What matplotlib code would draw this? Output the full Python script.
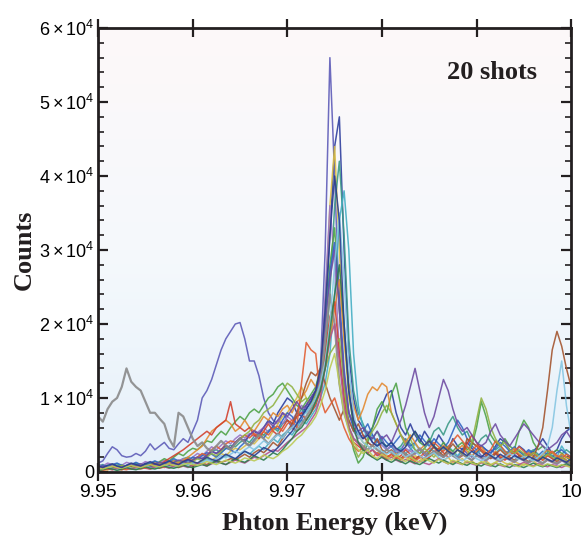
import numpy as np
import matplotlib
matplotlib.use("Agg")
import matplotlib.pyplot as plt
from matplotlib.colors import LinearSegmentedColormap

# spectra, counts in units of 1e3, sampled every 0.5 eV from 9.95 keV
x_start = 9.95
x_step = 0.0005

spectra = [
    # slate blue, tallest peak, broad hump near 9.966
    [1.2,1.5,2.5,3.4,3.0,2.2,2.0,2.1,2.5,2.2,2.8,3.8,3.0,3.5,4.0,3.2,3.0,3.8,4.5,4.0,5.5,
     7.0,10.0,11.0,12.5,14.5,16.5,18.0,19.0,20.0,20.2,18.0,15.0,15.0,13.0,10.0,8.0,7.0,6.5,8.0,7.0,
     6.0,7.5,8.0,9.0,10.0,11.0,14.0,30.0,56.0,40.0,22.0,12.0,8.0,
     6.0,5.0,4.5,5.5,4.0,3.5,4.5,
     3.0,3.5,2.5,3.0,4.0,3.2,2.5,3.0,2.2,2.8,3.5,2.5,2.0,3.0,2.5,2.0,3.2,2.5,2.0,3.0,
     2.2,2.0,3.0,2.5,1.8,2.2,3.0,2.4,1.8,2.0,2.8,2.2,1.5,2.0,2.5,1.8,1.5,2.2,2.0,1.6],
    # dark blue
    [0.5,0.6,0.4,0.8,0.7,0.5,0.9,1.0,0.6,0.8,1.2,0.9,0.7,1.0,1.3,1.1,0.8,1.2,1.5,1.2,1.6,
     2.0,1.8,2.2,2.8,2.5,3.0,3.5,3.2,4.0,4.5,4.0,5.0,5.5,5.0,6.0,7.0,6.5,8.0,9.0,10.0,
     9.5,8.0,7.5,9.0,10.0,11.0,12.0,20.0,32.0,44.0,48.0,30.0,16.0,
     10.0,7.0,6.0,5.0,6.0,7.5,9.0,
     10.5,11.0,8.0,6.0,5.0,6.5,5.0,4.0,5.5,4.5,3.5,5.0,4.0,3.0,4.5,3.5,3.0,4.0,3.2,2.5,
     3.5,3.0,2.5,3.5,4.5,4.0,3.0,2.5,3.5,3.0,2.2,2.8,3.5,4.5,3.5,2.5,3.0,4.5,5.5,6.0],
    # gold
    [0.3,0.4,0.3,0.5,0.4,0.6,0.5,0.4,0.6,0.8,0.7,0.5,0.6,0.9,0.8,0.7,1.0,1.2,0.9,1.1,1.4,
     1.2,1.5,1.8,1.6,2.0,2.5,2.2,2.8,3.2,3.0,3.5,4.0,3.8,4.5,5.0,4.5,5.5,6.5,7.5,8.0,
     9.0,10.0,11.5,10.0,9.0,11.0,14.0,22.0,36.0,44.0,30.0,18.0,10.0,
     7.0,5.0,4.0,3.5,3.0,2.5,3.0,
     2.2,2.0,2.5,1.8,2.0,1.5,2.2,1.8,1.5,2.0,2.5,1.8,1.5,2.0,1.2,1.5,1.8,1.2,1.5,1.0,
     1.2,1.5,1.0,1.3,1.6,1.2,1.0,1.4,1.1,0.9,1.3,1.5,1.0,1.2,1.6,1.3,1.1,1.5,2.0,1.6],
    # teal green
    [0.8,1.0,0.7,0.9,1.1,0.8,0.6,0.9,1.2,1.0,0.8,1.1,1.4,1.2,1.0,1.3,1.6,1.4,1.8,2.0,1.7,
     2.0,2.4,2.2,2.8,3.0,2.6,3.2,3.6,3.4,4.0,4.4,4.0,4.8,5.2,5.0,5.6,6.0,5.5,6.5,7.0,
     6.5,7.5,8.5,8.0,9.0,10.0,12.0,16.0,24.0,36.0,42.0,32.0,18.0,
     11.0,8.0,6.5,5.0,4.5,5.5,4.0,
     3.5,4.0,3.0,3.5,4.5,3.8,3.0,2.5,3.2,4.0,5.5,6.0,5.0,6.5,7.5,6.0,5.0,5.5,4.0,3.5,
     4.5,5.0,4.0,3.0,3.5,2.8,2.5,3.2,2.8,2.2,2.5,3.0,2.4,2.0,2.6,2.2,1.8,2.4,3.0,2.5],
    # cyan teal
    [0.5,0.7,0.9,0.6,0.8,1.0,0.7,0.5,0.8,0.6,0.9,1.1,0.8,0.6,1.0,1.3,1.0,0.8,1.2,1.5,1.2,
     1.0,1.4,1.8,1.5,1.2,1.8,2.2,2.0,1.6,2.4,2.8,2.4,3.0,3.5,3.0,3.8,4.5,4.0,5.0,5.5,
     5.0,6.0,7.0,6.5,7.5,8.5,10.0,12.0,16.0,24.0,34.0,38.0,30.0,
     16.0,9.0,6.0,4.5,5.0,3.5,4.0,
     3.0,3.5,2.8,3.2,2.5,3.0,3.8,3.0,2.5,3.2,2.8,2.2,3.0,3.5,2.8,2.2,2.8,3.5,2.8,2.4,
     3.0,2.5,2.0,2.6,3.2,2.6,2.2,2.8,2.4,2.0,2.6,2.2,1.8,2.4,3.0,2.6,2.0,3.5,2.5,2.0],
    # violet
    [1.0,0.8,1.2,1.0,0.7,0.9,1.3,1.1,0.8,1.0,1.4,1.2,0.9,1.3,1.6,1.3,1.0,1.5,1.8,1.5,2.0,
     2.5,2.2,2.8,3.4,3.0,3.6,4.2,3.8,4.5,5.0,4.6,5.2,4.8,5.5,6.0,5.4,6.2,7.0,6.5,7.5,
     7.0,8.0,9.0,8.5,9.5,10.5,13.0,24.0,36.0,28.0,16.0,10.0,7.0,
     5.5,4.5,5.0,4.0,3.5,4.2,3.6,
     3.0,3.6,3.0,2.6,3.2,2.8,2.4,3.0,2.6,2.2,2.8,2.4,2.0,2.6,2.2,1.8,2.4,2.0,1.6,2.2,
     1.8,1.5,2.0,1.7,1.4,1.9,1.6,1.3,1.8,1.5,1.2,1.7,1.4,1.1,1.6,1.3,1.0,1.5,1.2,1.0],
    # green
    [0.4,0.6,0.8,0.5,0.7,0.9,0.6,0.8,1.0,0.7,1.0,1.2,1.0,1.4,1.8,1.5,2.0,2.5,2.2,2.8,3.2,
     3.0,3.6,4.2,4.0,4.8,5.5,5.0,6.0,6.8,7.5,7.0,8.0,8.5,8.0,9.0,10.0,10.5,11.5,12.0,11.0,
     10.0,9.0,8.5,9.5,10.5,11.5,14.0,20.0,28.0,33.0,22.0,12.0,6.0,
     3.0,1.2,2.0,4.0,6.0,8.5,9.5,
     8.0,10.5,12.0,9.0,6.0,4.5,5.5,4.0,3.5,4.5,3.5,3.0,4.0,3.2,2.8,3.5,4.0,3.0,3.5,6.0,
     9.5,7.5,5.0,4.0,3.5,4.5,3.5,3.0,5.5,7.0,6.0,4.0,3.0,3.5,2.8,2.5,3.0,2.5,2.0,1.5],
    # blue
    [0.6,0.9,0.7,1.0,1.2,0.9,0.7,1.0,1.3,1.0,0.8,1.2,1.5,1.2,0.9,1.4,1.8,1.5,1.2,1.6,2.0,
     1.8,2.2,2.6,2.4,2.0,2.6,3.2,3.0,2.6,3.4,4.0,3.6,4.4,5.0,4.6,5.4,6.2,5.8,7.0,8.0,
     7.5,6.5,7.0,8.5,9.5,10.5,13.0,20.0,27.0,31.0,24.0,14.0,8.0,
     6.0,5.0,5.5,6.5,5.0,4.0,4.8,
     4.0,3.4,4.2,5.0,4.2,3.5,4.0,5.0,4.2,3.5,4.5,3.8,3.2,4.0,5.5,7.0,6.0,4.5,3.5,3.0,
     3.6,3.0,2.6,3.2,4.0,3.5,2.8,3.4,2.8,2.4,3.0,2.6,2.2,2.8,2.4,2.0,2.6,3.0,2.4,2.0],
    # orange
    [0.2,0.4,0.3,0.5,0.4,0.3,0.6,0.5,0.4,0.7,0.6,0.5,0.8,1.0,0.8,1.2,1.5,1.2,1.6,2.0,2.5,
     3.0,3.5,4.5,5.5,6.0,6.5,7.0,6.5,5.5,6.0,7.0,6.0,5.5,6.5,7.5,7.0,8.0,7.5,8.5,9.0,
     8.0,9.5,10.0,11.0,12.5,11.5,12.0,14.0,18.0,22.0,26.0,18.0,12.0,
     9.0,7.0,8.5,10.5,11.5,11.0,12.0,
     11.5,8.0,6.5,5.0,4.0,5.0,4.0,3.0,3.6,4.2,3.2,2.8,3.6,3.0,2.4,3.0,3.6,2.8,2.2,2.8,
     3.4,2.6,2.0,2.8,2.2,1.8,2.6,3.2,2.4,2.0,2.6,2.0,1.6,2.4,3.0,2.6,2.0,2.4,2.0,1.8],
    # red
    [0.3,0.5,0.4,0.6,0.5,0.4,0.7,0.6,0.5,0.8,0.6,0.9,1.2,1.0,1.4,1.8,2.2,2.6,3.0,3.5,4.0,
     4.5,5.0,5.5,5.0,6.0,6.5,7.0,9.5,6.5,6.0,5.5,6.0,5.0,4.5,5.5,6.5,5.5,5.0,6.0,7.0,
     6.5,7.5,8.0,7.0,8.0,9.0,11.0,16.0,21.0,23.0,16.0,10.0,6.0,
     4.0,3.5,3.0,2.5,3.0,2.2,2.6,
     2.0,2.4,1.8,2.2,3.0,2.4,1.8,2.2,1.6,2.0,2.6,3.2,2.6,2.0,2.4,1.8,2.2,3.8,5.0,4.0,
     3.0,2.4,2.0,2.6,2.0,1.6,2.2,2.8,2.2,1.6,2.0,2.6,2.0,1.6,2.2,1.8,1.4,2.0,1.6,1.2],
    # brown, with the peak at the high energy end
    [0.5,0.3,0.4,0.6,0.4,0.3,0.5,0.7,0.5,0.4,0.6,0.8,0.6,0.5,0.7,0.9,0.7,0.6,0.8,1.0,0.8,
     1.0,1.2,1.0,1.4,1.6,1.3,1.5,1.8,1.6,2.0,2.4,2.0,2.6,3.0,2.6,3.2,4.0,3.5,4.5,5.5,
     6.5,8.0,10.0,12.0,13.5,13.0,14.0,12.0,10.0,8.5,7.0,8.5,7.0,
     5.5,6.5,5.0,4.0,3.5,4.5,3.0,
     2.5,3.0,2.2,1.8,2.5,2.0,1.6,2.2,1.8,2.6,3.4,2.8,2.2,3.0,3.8,3.0,2.4,4.5,4.0,3.5,
     2.8,2.2,1.8,2.4,3.0,2.4,2.0,1.6,2.2,1.8,1.4,2.0,3.5,6.0,11.0,16.5,19.0,17.0,14.0,11.5],
    # orange red
    [0.3,0.2,0.4,0.3,0.5,0.4,0.3,0.5,0.4,0.6,0.5,0.4,0.6,0.8,0.6,0.9,1.2,1.0,1.4,1.8,1.5,
     2.0,2.5,2.2,3.0,3.5,3.0,3.8,4.2,4.0,4.5,5.0,4.6,5.2,4.8,5.5,5.0,5.8,6.2,5.5,6.5,
     7.0,6.0,12.0,17.5,16.5,16.0,10.0,8.0,9.0,10.0,8.0,6.0,4.5,
     3.5,2.8,3.2,2.5,2.0,2.6,2.2,
     1.8,2.4,2.0,1.6,2.2,1.8,1.4,2.0,2.6,3.2,4.0,3.4,2.8,3.4,4.2,5.0,4.2,3.4,2.8,3.6,
     3.0,2.4,3.0,4.2,3.6,2.8,2.2,2.8,3.4,2.8,2.2,2.6,2.0,1.6,2.2,2.8,2.2,1.8,2.4,2.0],
    # olive green
    [0.5,0.7,0.5,0.8,0.6,0.9,0.7,0.5,0.8,1.0,0.8,0.6,0.9,1.2,1.0,0.8,1.2,1.5,1.3,1.0,1.4,
     1.8,1.5,2.0,2.5,2.2,2.8,3.5,3.0,3.8,4.5,5.0,5.5,6.5,7.0,8.0,8.5,9.0,10.0,11.0,12.0,
     11.5,10.5,9.5,10.0,9.0,10.5,12.0,14.0,16.0,17.0,18.0,12.0,6.0,
     3.5,2.0,3.0,4.5,5.5,6.5,8.0,
     9.0,8.0,6.5,5.0,3.5,4.5,3.0,2.5,3.2,2.6,2.0,2.8,3.4,2.8,2.2,3.0,2.4,2.0,4.0,7.0,
     10.0,8.5,6.0,4.5,3.5,4.0,3.0,2.5,3.0,2.5,2.0,2.6,2.2,1.8,2.4,2.0,1.6,2.0,1.5,1.2],
    # purple, side peaks at 9.9835 and 9.9865
    [0.6,0.8,0.6,0.9,0.7,0.5,0.8,1.0,0.8,1.1,0.9,0.7,1.0,1.3,1.1,0.9,1.3,1.6,1.4,1.2,1.6,
     2.0,1.8,2.3,2.8,2.5,3.0,3.6,3.2,4.0,4.6,4.2,5.0,5.6,5.2,6.0,6.8,6.2,7.0,8.0,7.5,
     8.5,9.5,8.5,9.0,10.0,11.0,13.0,20.0,26.0,30.0,22.0,13.0,8.0,
     6.5,5.5,6.0,5.0,4.5,5.5,4.5,
     5.0,4.0,5.5,7.0,9.0,11.5,14.0,11.0,8.0,6.0,7.5,10.0,12.5,11.0,8.5,6.5,5.5,6.0,5.0,4.0,
     3.5,4.0,5.5,6.5,5.0,4.2,3.5,4.5,5.5,6.5,5.8,5.0,4.2,3.5,3.0,3.5,4.0,5.0,5.5,4.5],
    # gray, early bump at 9.953
    [7.5,6.8,8.5,9.5,10.0,11.5,14.0,12.2,11.5,11.0,9.5,8.0,8.0,7.2,6.5,4.5,3.4,8.0,7.5,6.0,4.5,
     3.5,4.0,3.2,2.8,3.5,4.2,3.6,3.0,3.8,4.5,4.0,3.5,4.2,5.0,4.5,3.8,4.5,5.2,4.6,5.5,
     6.0,5.5,6.5,7.5,8.5,9.5,12.0,18.0,24.0,20.0,12.0,8.0,6.0,
     4.5,4.0,3.5,3.0,3.6,3.0,2.5,
     3.0,2.6,2.2,2.8,2.4,2.0,2.6,3.2,2.6,2.2,2.8,2.4,2.0,2.6,2.2,1.8,2.4,2.0,1.6,2.2,
     2.0,1.6,2.2,1.8,1.5,2.0,1.7,1.4,1.9,1.6,1.3,1.8,1.5,1.2,1.7,1.4,1.2,1.6,1.3,1.0],
    # light blue
    [0.3,0.4,0.6,0.5,0.3,0.5,0.7,0.5,0.4,0.6,0.8,0.6,0.5,0.7,0.9,0.7,0.6,0.9,1.1,0.9,1.2,
     1.0,1.3,1.6,1.4,1.8,2.2,1.9,2.4,2.8,2.5,3.0,3.4,3.0,3.6,4.2,3.8,4.5,5.0,4.6,5.5,
     6.0,6.5,7.5,8.0,9.0,10.0,12.0,15.0,20.0,28.0,35.0,26.0,14.0,
     8.0,5.0,4.0,3.5,3.0,3.5,2.8,
     2.4,2.8,2.2,2.6,2.0,2.4,2.8,2.2,1.8,2.2,2.6,2.0,1.6,2.0,2.4,1.8,1.5,1.9,2.3,1.8,
     1.5,1.9,2.4,1.9,1.6,2.0,2.5,2.0,1.7,2.1,1.8,1.5,2.0,2.5,3.5,6.0,11.0,15.0,9.0,5.0],
    # magenta
    [0.4,0.6,0.5,0.3,0.5,0.7,0.5,0.4,0.6,0.8,0.6,0.4,0.7,0.9,0.7,0.5,0.8,1.0,0.8,0.6,0.9,
     1.2,1.0,0.8,1.1,1.4,1.2,1.0,1.3,1.6,1.4,1.2,1.6,2.0,1.8,2.2,2.6,3.0,2.8,3.4,4.0,
     4.5,5.0,5.5,6.0,7.0,8.0,10.0,14.0,18.0,20.0,15.0,9.0,6.0,
     4.5,3.8,3.2,2.6,3.0,2.4,2.0,
     1.6,2.0,1.6,1.3,1.7,1.4,1.1,1.5,1.2,1.0,1.4,1.8,1.4,1.1,1.5,1.2,1.0,1.4,1.1,0.9,
     1.3,1.0,0.8,1.2,0.9,0.7,1.1,0.8,1.0,1.3,1.0,0.8,1.1,0.9,0.7,1.0,0.8,0.6,0.9,0.7],
    # dark green
    [0.2,0.3,0.5,0.4,0.2,0.4,0.6,0.4,0.3,0.5,0.7,0.5,0.4,0.6,0.8,0.6,0.5,0.7,0.9,0.7,0.6,
     0.8,1.0,0.8,1.2,1.5,1.2,1.0,1.4,1.8,1.5,1.3,1.7,2.2,1.9,1.6,2.1,2.6,2.3,3.0,3.8,
     4.5,5.5,6.0,7.0,8.0,9.5,11.0,14.0,19.0,24.0,28.0,20.0,11.0,
     6.0,4.0,3.0,2.4,2.0,1.6,2.0,
     1.6,1.3,1.7,1.4,1.1,1.5,1.2,1.0,1.4,1.8,1.5,1.2,1.6,1.3,1.0,1.4,1.1,0.9,1.3,1.0,
     0.8,1.2,0.9,0.7,1.1,0.8,0.6,1.0,0.8,0.6,0.9,1.2,0.9,0.7,1.0,0.8,0.6,0.9,1.1,0.8],
    # yellow green
    [0.5,0.4,0.6,0.8,0.6,0.5,0.7,0.9,0.7,0.6,0.8,1.0,0.8,0.7,0.9,1.1,0.9,0.8,1.0,1.2,1.0,
     0.9,1.1,1.4,1.2,1.0,1.3,1.6,1.4,1.2,1.5,1.9,1.7,1.5,1.8,2.3,2.0,1.8,2.2,2.8,3.2,
     3.8,4.5,5.0,5.8,6.5,7.5,9.0,11.0,14.0,16.0,12.0,8.0,5.5,
     4.0,3.0,2.5,3.0,2.2,1.8,2.4,
     2.0,1.6,2.2,1.8,1.4,2.0,1.6,1.3,1.8,1.5,1.2,1.7,1.4,1.1,1.6,1.3,1.0,1.5,1.2,1.0,
     1.4,1.1,0.9,1.3,1.0,0.8,1.2,0.9,0.7,1.1,0.9,0.7,1.0,0.8,1.1,0.9,0.7,1.0,0.8,0.6],
    # navy
    [0.8,0.6,0.9,1.1,0.8,0.6,0.9,1.2,1.0,0.8,1.1,1.4,1.1,0.9,1.2,1.5,1.2,1.0,1.4,1.7,1.4,
     1.2,1.6,2.0,1.7,1.5,1.9,2.4,2.1,1.8,2.3,2.8,2.5,2.2,2.7,3.3,3.0,2.7,3.3,4.0,4.8,
     5.5,6.5,7.5,8.5,9.5,11.0,14.0,22.0,32.0,40.0,34.0,20.0,11.0,
     7.0,5.5,4.5,5.0,4.0,3.5,4.0,
     3.4,4.0,3.2,2.8,3.4,4.5,5.5,4.5,3.6,4.2,3.4,2.8,3.4,2.8,2.4,3.0,2.6,2.2,2.8,2.4,
     2.0,2.6,2.2,1.8,2.4,2.0,1.7,2.2,1.9,1.6,2.1,1.8,1.5,2.0,1.7,1.4,1.9,1.6,1.3,1.8],
]

colors = ["#5e5cb8", "#2f3f9e", "#d9bd45", "#3c9a86", "#45aec4",
          "#9b74c4", "#4fa347", "#3266c4", "#e38a32", "#d2412e",
          "#a4552f", "#e25e33", "#92b344", "#6f4ca2", "#8a8a8a",
          "#86c6e2", "#b3558c", "#2f7b4b", "#bccb55", "#2a3e8e"]

x_ticks = [9.95, 9.96, 9.97, 9.98, 9.99, 10.0]
x_labels = ["9.95", "9.96", "9.97", "9.98", "9.99", "10"]
y_ticks = [0, 10000, 20000, 30000, 40000, 50000, 60000]
y_labels = ["0"] + [r"$%d\times10^{4}$" % k for k in range(1, 7)]

plt.rcParams["mathtext.fontset"] = "custom"
plt.rcParams["mathtext.rm"] = "Liberation Sans"
plt.rcParams["mathtext.it"] = "Liberation Sans"
plt.rcParams["font.family"] = "Liberation Sans"

fig = plt.figure(figsize=(5.84, 5.4), dpi=100)
ax = fig.add_axes([0.168, 0.126, 0.81, 0.822])

# soft background gradient, pink at the top fading to light blue at the bottom
bg = LinearSegmentedColormap.from_list("bg", ["#e5f0fa", "#f5f9fc", "#fdf8f9"])
ax.imshow(np.linspace(0, 1, 256).reshape(-1, 1), cmap=bg, origin="lower",
          aspect="auto", extent=[0, 1, 0, 1], transform=ax.transAxes, zorder=0)

for y, c in zip(spectra, colors):
    xs = x_start + x_step * np.arange(len(y))
    lw = 1.6 if c == "#8a8a8a" else 1.1
    ax.plot(xs, np.array(y) * 1000, color=c, lw=lw, alpha=0.9, zorder=2)

ax.set_xlim(9.95, 10.0)
ax.set_ylim(0, 60000)
ax.set_xticks(x_ticks)
ax.set_xticklabels(x_labels, fontsize=14)
ax.set_yticks(y_ticks)
ax.set_yticklabels(y_labels, fontsize=13)
ax.set_yticks(np.arange(0, 60001, 2000), minor=True)

ax.tick_params(axis="x", which="major", direction="inout", length=13, width=1.6,
               top=True, pad=2, color="#231f20")
ax.tick_params(axis="y", which="major", direction="in", length=7, width=1.6,
               right=True, pad=3, color="#231f20")
ax.tick_params(axis="y", which="minor", direction="in", length=4, width=1.2,
               right=True, color="#231f20")
for s in ax.spines.values():
    s.set_linewidth(2.0)
    s.set_color("#231f20")

ax.set_xlabel("Phton Energy (keV)", fontsize=19, fontweight="bold",
              family="Liberation Serif", color="#231f20", labelpad=8)
ax.set_ylabel("Counts", fontsize=19, fontweight="bold",
              family="Liberation Serif", color="#231f20", labelpad=2)
ax.text(0.928, 0.9, "20 shots", transform=ax.transAxes, ha="right", va="center",
        fontsize=19, fontweight="bold", family="Liberation Serif", color="#231f20")

fig.savefig("out.png", dpi=100)
